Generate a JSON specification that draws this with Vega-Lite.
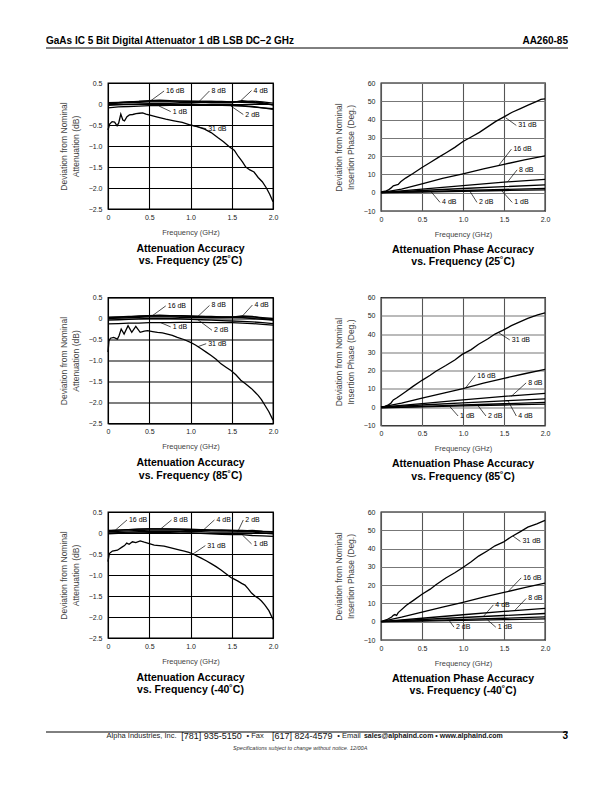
{
"$schema":"https://vega.github.io/schema/vega-lite/v6.json",
"padding":{"left":45,"top":35,"right":0,"bottom":0},
"background":"white",
"config":{
 "font":"Liberation Sans",
 "view":{"stroke":"black","strokeWidth":1.3},
 "axis":{"grid":true,"ticks":false,"domain":false,"tickCount":10,"labelFont":"Liberation Sans","labelFontSize":7,"labelColor":"#222","labelPadding":6,"labelFlush":false,"labelOverlap":false,"titleFont":"Liberation Sans","titleFontSize":8.5,"titleFontWeight":"normal","titleColor":"#444","titlePadding":8,"gridColor":"black","gridWidth":1.1,"gridOpacity":1},
 "axisX":{"titleFontSize":7.5,"labelPadding":4,"titlePadding":8},
 "axisY":{"titleLineHeight":12},
 "title":{"font":"Liberation Sans"}
},
"datasets":{
"a25":[
{"series":"16 dB","freq":0,"dev":0.02},{"series":"16 dB","freq":0.125,"dev":0.03},{"series":"16 dB","freq":0.25,"dev":0.05},{"series":"16 dB","freq":0.375,"dev":0.06},{"series":"16 dB","freq":0.5,"dev":0.08},{"series":"16 dB","freq":0.625,"dev":0.09},{"series":"16 dB","freq":0.75,"dev":0.08},{"series":"16 dB","freq":0.875,"dev":0.07},{"series":"16 dB","freq":1,"dev":0.07},{"series":"16 dB","freq":1.125,"dev":0.06},{"series":"16 dB","freq":1.25,"dev":0.06},{"series":"16 dB","freq":1.375,"dev":0.05},{"series":"16 dB","freq":1.5,"dev":0.05},{"series":"16 dB","freq":1.625,"dev":0.04},{"series":"16 dB","freq":1.75,"dev":0.03},{"series":"16 dB","freq":1.875,"dev":0.01},{"series":"16 dB","freq":2,"dev":-0.02},
{"series":"8 dB","freq":0,"dev":0.03},{"series":"8 dB","freq":0.125,"dev":0.04},{"series":"8 dB","freq":0.25,"dev":0.05},{"series":"8 dB","freq":0.375,"dev":0.06},{"series":"8 dB","freq":0.5,"dev":0.07},{"series":"8 dB","freq":0.625,"dev":0.07},{"series":"8 dB","freq":0.75,"dev":0.07},{"series":"8 dB","freq":0.875,"dev":0.07},{"series":"8 dB","freq":1,"dev":0.06},{"series":"8 dB","freq":1.125,"dev":0.06},{"series":"8 dB","freq":1.25,"dev":0.06},{"series":"8 dB","freq":1.375,"dev":0.06},{"series":"8 dB","freq":1.5,"dev":0.05},{"series":"8 dB","freq":1.625,"dev":0.06},{"series":"8 dB","freq":1.75,"dev":0.07},{"series":"8 dB","freq":1.875,"dev":0.05},{"series":"8 dB","freq":2,"dev":0.02},
{"series":"4 dB","freq":0,"dev":0.0},{"series":"4 dB","freq":0.125,"dev":0.02},{"series":"4 dB","freq":0.25,"dev":0.03},{"series":"4 dB","freq":0.375,"dev":0.04},{"series":"4 dB","freq":0.5,"dev":0.05},{"series":"4 dB","freq":0.625,"dev":0.05},{"series":"4 dB","freq":0.75,"dev":0.05},{"series":"4 dB","freq":0.875,"dev":0.04},{"series":"4 dB","freq":1,"dev":0.04},{"series":"4 dB","freq":1.125,"dev":0.04},{"series":"4 dB","freq":1.25,"dev":0.03},{"series":"4 dB","freq":1.375,"dev":0.03},{"series":"4 dB","freq":1.5,"dev":0.03},{"series":"4 dB","freq":1.625,"dev":0.08},{"series":"4 dB","freq":1.75,"dev":0.04},{"series":"4 dB","freq":1.875,"dev":0.03},{"series":"4 dB","freq":2,"dev":-0.02},
{"series":"2 dB","freq":0,"dev":-0.03},{"series":"2 dB","freq":0.125,"dev":-0.02},{"series":"2 dB","freq":0.25,"dev":-0.01},{"series":"2 dB","freq":0.375,"dev":0.0},{"series":"2 dB","freq":0.5,"dev":0.01},{"series":"2 dB","freq":0.625,"dev":0.01},{"series":"2 dB","freq":0.75,"dev":0.01},{"series":"2 dB","freq":0.875,"dev":0.0},{"series":"2 dB","freq":1,"dev":0.0},{"series":"2 dB","freq":1.125,"dev":-0.01},{"series":"2 dB","freq":1.25,"dev":-0.02},{"series":"2 dB","freq":1.375,"dev":-0.03},{"series":"2 dB","freq":1.5,"dev":-0.04},{"series":"2 dB","freq":1.625,"dev":-0.05},{"series":"2 dB","freq":1.75,"dev":-0.07},{"series":"2 dB","freq":1.875,"dev":-0.09},{"series":"2 dB","freq":2,"dev":-0.11},
{"series":"1 dB","freq":0,"dev":-0.09},{"series":"1 dB","freq":0.125,"dev":-0.07},{"series":"1 dB","freq":0.25,"dev":-0.06},{"series":"1 dB","freq":0.375,"dev":-0.05},{"series":"1 dB","freq":0.5,"dev":-0.04},{"series":"1 dB","freq":0.625,"dev":-0.04},{"series":"1 dB","freq":0.75,"dev":-0.03},{"series":"1 dB","freq":0.875,"dev":-0.03},{"series":"1 dB","freq":1,"dev":-0.03},{"series":"1 dB","freq":1.125,"dev":-0.03},{"series":"1 dB","freq":1.25,"dev":-0.03},{"series":"1 dB","freq":1.375,"dev":-0.03},{"series":"1 dB","freq":1.5,"dev":-0.03},{"series":"1 dB","freq":1.625,"dev":-0.04},{"series":"1 dB","freq":1.75,"dev":-0.06},{"series":"1 dB","freq":1.875,"dev":-0.09},{"series":"1 dB","freq":2,"dev":-0.13},
{"series":"31 dB","freq":0,"dev":-0.62},{"series":"31 dB","freq":0.02,"dev":-0.48},{"series":"31 dB","freq":0.05,"dev":-0.42},{"series":"31 dB","freq":0.08,"dev":-0.43},{"series":"31 dB","freq":0.11,"dev":-0.52},{"series":"31 dB","freq":0.13,"dev":-0.45},{"series":"31 dB","freq":0.155,"dev":-0.24},{"series":"31 dB","freq":0.18,"dev":-0.38},{"series":"31 dB","freq":0.2,"dev":-0.4},{"series":"31 dB","freq":0.23,"dev":-0.3},{"series":"31 dB","freq":0.26,"dev":-0.26},{"series":"31 dB","freq":0.3,"dev":-0.25},{"series":"31 dB","freq":0.34,"dev":-0.23},{"series":"31 dB","freq":0.38,"dev":-0.22},{"series":"31 dB","freq":0.42,"dev":-0.21},{"series":"31 dB","freq":0.46,"dev":-0.24},{"series":"31 dB","freq":0.52,"dev":-0.27},{"series":"31 dB","freq":0.6,"dev":-0.31},{"series":"31 dB","freq":0.7,"dev":-0.36},{"series":"31 dB","freq":0.8,"dev":-0.4},{"series":"31 dB","freq":0.9,"dev":-0.44},{"series":"31 dB","freq":1.0,"dev":-0.5},{"series":"31 dB","freq":1.08,"dev":-0.54},{"series":"31 dB","freq":1.17,"dev":-0.6},{"series":"31 dB","freq":1.25,"dev":-0.68},{"series":"31 dB","freq":1.33,"dev":-0.8},{"series":"31 dB","freq":1.4,"dev":-0.9},{"series":"31 dB","freq":1.47,"dev":-1.02},{"series":"31 dB","freq":1.53,"dev":-1.1},{"series":"31 dB","freq":1.58,"dev":-1.25},{"series":"31 dB","freq":1.63,"dev":-1.38},{"series":"31 dB","freq":1.67,"dev":-1.5},{"series":"31 dB","freq":1.72,"dev":-1.57},{"series":"31 dB","freq":1.77,"dev":-1.62},{"series":"31 dB","freq":1.82,"dev":-1.75},{"series":"31 dB","freq":1.87,"dev":-1.85},{"series":"31 dB","freq":1.92,"dev":-2.0},{"series":"31 dB","freq":1.96,"dev":-2.15},{"series":"31 dB","freq":2.0,"dev":-2.33}
],
"a85":[
{"series":"16 dB","freq":0,"dev":0.02},{"series":"16 dB","freq":0.125,"dev":0.03},{"series":"16 dB","freq":0.25,"dev":0.04},{"series":"16 dB","freq":0.375,"dev":0.06},{"series":"16 dB","freq":0.5,"dev":0.07},{"series":"16 dB","freq":0.625,"dev":0.08},{"series":"16 dB","freq":0.75,"dev":0.07},{"series":"16 dB","freq":0.875,"dev":0.07},{"series":"16 dB","freq":1,"dev":0.06},{"series":"16 dB","freq":1.125,"dev":0.05},{"series":"16 dB","freq":1.25,"dev":0.05},{"series":"16 dB","freq":1.375,"dev":0.04},{"series":"16 dB","freq":1.5,"dev":0.03},{"series":"16 dB","freq":1.625,"dev":0.02},{"series":"16 dB","freq":1.75,"dev":0.0},{"series":"16 dB","freq":1.875,"dev":-0.02},{"series":"16 dB","freq":2,"dev":-0.04},
{"series":"8 dB","freq":0,"dev":0.03},{"series":"8 dB","freq":0.125,"dev":0.04},{"series":"8 dB","freq":0.25,"dev":0.05},{"series":"8 dB","freq":0.375,"dev":0.05},{"series":"8 dB","freq":0.5,"dev":0.06},{"series":"8 dB","freq":0.625,"dev":0.06},{"series":"8 dB","freq":0.75,"dev":0.06},{"series":"8 dB","freq":0.875,"dev":0.06},{"series":"8 dB","freq":1,"dev":0.05},{"series":"8 dB","freq":1.125,"dev":0.05},{"series":"8 dB","freq":1.25,"dev":0.04},{"series":"8 dB","freq":1.375,"dev":0.04},{"series":"8 dB","freq":1.5,"dev":0.04},{"series":"8 dB","freq":1.625,"dev":0.03},{"series":"8 dB","freq":1.75,"dev":0.04},{"series":"8 dB","freq":1.875,"dev":0.02},{"series":"8 dB","freq":2,"dev":0.0},
{"series":"4 dB","freq":0,"dev":0.0},{"series":"4 dB","freq":0.125,"dev":0.01},{"series":"4 dB","freq":0.25,"dev":0.02},{"series":"4 dB","freq":0.375,"dev":0.03},{"series":"4 dB","freq":0.5,"dev":0.04},{"series":"4 dB","freq":0.625,"dev":0.04},{"series":"4 dB","freq":0.75,"dev":0.04},{"series":"4 dB","freq":0.875,"dev":0.03},{"series":"4 dB","freq":1,"dev":0.03},{"series":"4 dB","freq":1.125,"dev":0.03},{"series":"4 dB","freq":1.25,"dev":0.02},{"series":"4 dB","freq":1.375,"dev":0.02},{"series":"4 dB","freq":1.5,"dev":0.03},{"series":"4 dB","freq":1.625,"dev":0.06},{"series":"4 dB","freq":1.75,"dev":0.05},{"series":"4 dB","freq":1.875,"dev":0.0},{"series":"4 dB","freq":2,"dev":-0.03},
{"series":"2 dB","freq":0,"dev":-0.04},{"series":"2 dB","freq":0.125,"dev":-0.03},{"series":"2 dB","freq":0.25,"dev":-0.02},{"series":"2 dB","freq":0.375,"dev":-0.01},{"series":"2 dB","freq":0.5,"dev":0.0},{"series":"2 dB","freq":0.625,"dev":0.0},{"series":"2 dB","freq":0.75,"dev":0.0},{"series":"2 dB","freq":0.875,"dev":-0.01},{"series":"2 dB","freq":1,"dev":-0.02},{"series":"2 dB","freq":1.125,"dev":-0.03},{"series":"2 dB","freq":1.25,"dev":-0.04},{"series":"2 dB","freq":1.375,"dev":-0.05},{"series":"2 dB","freq":1.5,"dev":-0.06},{"series":"2 dB","freq":1.625,"dev":-0.07},{"series":"2 dB","freq":1.75,"dev":-0.08},{"series":"2 dB","freq":1.875,"dev":-0.1},{"series":"2 dB","freq":2,"dev":-0.12},
{"series":"1 dB","freq":0,"dev":-0.13},{"series":"1 dB","freq":0.125,"dev":-0.12},{"series":"1 dB","freq":0.25,"dev":-0.11},{"series":"1 dB","freq":0.375,"dev":-0.11},{"series":"1 dB","freq":0.5,"dev":-0.1},{"series":"1 dB","freq":0.625,"dev":-0.1},{"series":"1 dB","freq":0.75,"dev":-0.1},{"series":"1 dB","freq":0.875,"dev":-0.09},{"series":"1 dB","freq":1,"dev":-0.09},{"series":"1 dB","freq":1.125,"dev":-0.09},{"series":"1 dB","freq":1.25,"dev":-0.1},{"series":"1 dB","freq":1.375,"dev":-0.1},{"series":"1 dB","freq":1.5,"dev":-0.1},{"series":"1 dB","freq":1.625,"dev":-0.11},{"series":"1 dB","freq":1.75,"dev":-0.12},{"series":"1 dB","freq":1.875,"dev":-0.14},{"series":"1 dB","freq":2,"dev":-0.16},
{"series":"31 dB","freq":0,"dev":-0.8},{"series":"31 dB","freq":0.012,"dev":-0.53},{"series":"31 dB","freq":0.03,"dev":-0.47},{"series":"31 dB","freq":0.07,"dev":-0.45},{"series":"31 dB","freq":0.114,"dev":-0.49},{"series":"31 dB","freq":0.134,"dev":-0.41},{"series":"31 dB","freq":0.16,"dev":-0.25},{"series":"31 dB","freq":0.195,"dev":-0.37},{"series":"31 dB","freq":0.243,"dev":-0.17},{"series":"31 dB","freq":0.288,"dev":-0.33},{"series":"31 dB","freq":0.337,"dev":-0.19},{"series":"31 dB","freq":0.39,"dev":-0.33},{"series":"31 dB","freq":0.44,"dev":-0.3},{"series":"31 dB","freq":0.48,"dev":-0.29},{"series":"31 dB","freq":0.54,"dev":-0.31},{"series":"31 dB","freq":0.6,"dev":-0.33},{"series":"31 dB","freq":0.66,"dev":-0.34},{"series":"31 dB","freq":0.72,"dev":-0.37},{"series":"31 dB","freq":0.78,"dev":-0.4},{"series":"31 dB","freq":0.84,"dev":-0.45},{"series":"31 dB","freq":0.92,"dev":-0.5},{"series":"31 dB","freq":1.0,"dev":-0.57},{"series":"31 dB","freq":1.06,"dev":-0.63},{"series":"31 dB","freq":1.13,"dev":-0.72},{"series":"31 dB","freq":1.19,"dev":-0.8},{"series":"31 dB","freq":1.25,"dev":-0.88},{"series":"31 dB","freq":1.31,"dev":-0.97},{"series":"31 dB","freq":1.37,"dev":-1.08},{"series":"31 dB","freq":1.43,"dev":-1.16},{"series":"31 dB","freq":1.49,"dev":-1.24},{"series":"31 dB","freq":1.55,"dev":-1.34},{"series":"31 dB","freq":1.61,"dev":-1.47},{"series":"31 dB","freq":1.67,"dev":-1.56},{"series":"31 dB","freq":1.74,"dev":-1.67},{"series":"31 dB","freq":1.78,"dev":-1.75},{"series":"31 dB","freq":1.82,"dev":-1.83},{"series":"31 dB","freq":1.86,"dev":-1.93},{"series":"31 dB","freq":1.9,"dev":-2.06},{"series":"31 dB","freq":1.95,"dev":-2.22},{"series":"31 dB","freq":2.0,"dev":-2.42}
],
"am40":[
{"series":"16 dB","freq":0,"dev":0.05},{"series":"16 dB","freq":0.125,"dev":0.07},{"series":"16 dB","freq":0.25,"dev":0.08},{"series":"16 dB","freq":0.375,"dev":0.09},{"series":"16 dB","freq":0.5,"dev":0.1},{"series":"16 dB","freq":0.625,"dev":0.1},{"series":"16 dB","freq":0.75,"dev":0.1},{"series":"16 dB","freq":0.875,"dev":0.09},{"series":"16 dB","freq":1,"dev":0.09},{"series":"16 dB","freq":1.125,"dev":0.08},{"series":"16 dB","freq":1.25,"dev":0.07},{"series":"16 dB","freq":1.375,"dev":0.07},{"series":"16 dB","freq":1.5,"dev":0.06},{"series":"16 dB","freq":1.625,"dev":0.05},{"series":"16 dB","freq":1.75,"dev":0.04},{"series":"16 dB","freq":1.875,"dev":0.03},{"series":"16 dB","freq":2,"dev":0.02},
{"series":"8 dB","freq":0,"dev":0.06},{"series":"8 dB","freq":0.125,"dev":0.07},{"series":"8 dB","freq":0.25,"dev":0.08},{"series":"8 dB","freq":0.375,"dev":0.09},{"series":"8 dB","freq":0.5,"dev":0.1},{"series":"8 dB","freq":0.625,"dev":0.1},{"series":"8 dB","freq":0.75,"dev":0.09},{"series":"8 dB","freq":0.875,"dev":0.09},{"series":"8 dB","freq":1,"dev":0.08},{"series":"8 dB","freq":1.125,"dev":0.08},{"series":"8 dB","freq":1.25,"dev":0.07},{"series":"8 dB","freq":1.375,"dev":0.07},{"series":"8 dB","freq":1.5,"dev":0.06},{"series":"8 dB","freq":1.625,"dev":0.06},{"series":"8 dB","freq":1.75,"dev":0.05},{"series":"8 dB","freq":1.875,"dev":0.04},{"series":"8 dB","freq":2,"dev":0.03},
{"series":"4 dB","freq":0,"dev":0.03},{"series":"4 dB","freq":0.125,"dev":0.04},{"series":"4 dB","freq":0.25,"dev":0.05},{"series":"4 dB","freq":0.375,"dev":0.06},{"series":"4 dB","freq":0.5,"dev":0.07},{"series":"4 dB","freq":0.625,"dev":0.07},{"series":"4 dB","freq":0.75,"dev":0.07},{"series":"4 dB","freq":0.875,"dev":0.07},{"series":"4 dB","freq":1,"dev":0.06},{"series":"4 dB","freq":1.125,"dev":0.06},{"series":"4 dB","freq":1.25,"dev":0.06},{"series":"4 dB","freq":1.375,"dev":0.05},{"series":"4 dB","freq":1.5,"dev":0.05},{"series":"4 dB","freq":1.625,"dev":0.05},{"series":"4 dB","freq":1.75,"dev":0.06},{"series":"4 dB","freq":1.875,"dev":0.04},{"series":"4 dB","freq":2,"dev":0.03},
{"series":"2 dB","freq":0,"dev":0.0},{"series":"2 dB","freq":0.125,"dev":0.01},{"series":"2 dB","freq":0.25,"dev":0.02},{"series":"2 dB","freq":0.375,"dev":0.03},{"series":"2 dB","freq":0.5,"dev":0.04},{"series":"2 dB","freq":0.625,"dev":0.04},{"series":"2 dB","freq":0.75,"dev":0.04},{"series":"2 dB","freq":0.875,"dev":0.04},{"series":"2 dB","freq":1,"dev":0.03},{"series":"2 dB","freq":1.125,"dev":0.03},{"series":"2 dB","freq":1.25,"dev":0.02},{"series":"2 dB","freq":1.375,"dev":0.02},{"series":"2 dB","freq":1.5,"dev":0.02},{"series":"2 dB","freq":1.625,"dev":0.03},{"series":"2 dB","freq":1.75,"dev":0.02},{"series":"2 dB","freq":1.875,"dev":0.0},{"series":"2 dB","freq":2,"dev":-0.02},
{"series":"1 dB","freq":0,"dev":-0.02},{"series":"1 dB","freq":0.125,"dev":-0.01},{"series":"1 dB","freq":0.25,"dev":0.0},{"series":"1 dB","freq":0.375,"dev":0.0},{"series":"1 dB","freq":0.5,"dev":0.01},{"series":"1 dB","freq":0.625,"dev":0.01},{"series":"1 dB","freq":0.75,"dev":0.01},{"series":"1 dB","freq":0.875,"dev":0.0},{"series":"1 dB","freq":1,"dev":0.0},{"series":"1 dB","freq":1.125,"dev":-0.01},{"series":"1 dB","freq":1.25,"dev":-0.02},{"series":"1 dB","freq":1.375,"dev":-0.03},{"series":"1 dB","freq":1.5,"dev":-0.04},{"series":"1 dB","freq":1.625,"dev":-0.04},{"series":"1 dB","freq":1.75,"dev":-0.06},{"series":"1 dB","freq":1.875,"dev":-0.07},{"series":"1 dB","freq":2,"dev":-0.08},
{"series":"31 dB","freq":0,"dev":-0.68},{"series":"31 dB","freq":0.016,"dev":-0.49},{"series":"31 dB","freq":0.053,"dev":-0.43},{"series":"31 dB","freq":0.114,"dev":-0.41},{"series":"31 dB","freq":0.174,"dev":-0.33},{"series":"31 dB","freq":0.2,"dev":-0.3},{"series":"31 dB","freq":0.227,"dev":-0.24},{"series":"31 dB","freq":0.256,"dev":-0.27},{"series":"31 dB","freq":0.296,"dev":-0.21},{"series":"31 dB","freq":0.337,"dev":-0.23},{"series":"31 dB","freq":0.39,"dev":-0.19},{"series":"31 dB","freq":0.44,"dev":-0.22},{"series":"31 dB","freq":0.48,"dev":-0.24},{"series":"31 dB","freq":0.56,"dev":-0.29},{"series":"31 dB","freq":0.62,"dev":-0.3},{"series":"31 dB","freq":0.68,"dev":-0.31},{"series":"31 dB","freq":0.74,"dev":-0.34},{"series":"31 dB","freq":0.8,"dev":-0.37},{"series":"31 dB","freq":0.86,"dev":-0.4},{"series":"31 dB","freq":0.925,"dev":-0.43},{"series":"31 dB","freq":0.98,"dev":-0.46},{"series":"31 dB","freq":1.03,"dev":-0.5},{"series":"31 dB","freq":1.08,"dev":-0.55},{"series":"31 dB","freq":1.13,"dev":-0.6},{"series":"31 dB","freq":1.19,"dev":-0.66},{"series":"31 dB","freq":1.25,"dev":-0.73},{"series":"31 dB","freq":1.31,"dev":-0.8},{"series":"31 dB","freq":1.37,"dev":-0.88},{"series":"31 dB","freq":1.43,"dev":-0.97},{"series":"31 dB","freq":1.49,"dev":-1.06},{"series":"31 dB","freq":1.53,"dev":-1.1},{"series":"31 dB","freq":1.57,"dev":-1.14},{"series":"31 dB","freq":1.62,"dev":-1.2},{"series":"31 dB","freq":1.66,"dev":-1.24},{"series":"31 dB","freq":1.7,"dev":-1.33},{"series":"31 dB","freq":1.74,"dev":-1.43},{"series":"31 dB","freq":1.78,"dev":-1.5},{"series":"31 dB","freq":1.82,"dev":-1.55},{"series":"31 dB","freq":1.86,"dev":-1.62},{"series":"31 dB","freq":1.9,"dev":-1.71},{"series":"31 dB","freq":1.95,"dev":-1.85},{"series":"31 dB","freq":2.0,"dev":-2.06}
],
"p25":[
{"series":"31 dB","freq":0,"dev":0.5},{"series":"31 dB","freq":0.05,"dev":0.8},{"series":"31 dB","freq":0.09,"dev":1.5},{"series":"31 dB","freq":0.12,"dev":2.5},{"series":"31 dB","freq":0.15,"dev":3.8},{"series":"31 dB","freq":0.18,"dev":4.2},{"series":"31 dB","freq":0.21,"dev":4.5},{"series":"31 dB","freq":0.24,"dev":6},{"series":"31 dB","freq":0.3,"dev":8},{"series":"31 dB","freq":0.39,"dev":10.5},{"series":"31 dB","freq":0.5,"dev":13.8},{"series":"31 dB","freq":0.6,"dev":16.5},{"series":"31 dB","freq":0.7,"dev":19.3},{"series":"31 dB","freq":0.8,"dev":22},{"series":"31 dB","freq":0.9,"dev":24.8},{"series":"31 dB","freq":1.0,"dev":28},{"series":"31 dB","freq":1.1,"dev":30.5},{"series":"31 dB","freq":1.2,"dev":33},{"series":"31 dB","freq":1.3,"dev":36},{"series":"31 dB","freq":1.4,"dev":39},{"series":"31 dB","freq":1.5,"dev":41.5},{"series":"31 dB","freq":1.6,"dev":44},{"series":"31 dB","freq":1.7,"dev":46},{"series":"31 dB","freq":1.8,"dev":48},{"series":"31 dB","freq":1.9,"dev":50},{"series":"31 dB","freq":1.95,"dev":51},{"series":"31 dB","freq":2.0,"dev":51.3},
{"series":"16 dB","freq":0,"dev":0},{"series":"16 dB","freq":0.25,"dev":2},{"series":"16 dB","freq":0.5,"dev":4.8},{"series":"16 dB","freq":0.75,"dev":7.8},{"series":"16 dB","freq":1.0,"dev":10.3},{"series":"16 dB","freq":1.25,"dev":13},{"series":"16 dB","freq":1.5,"dev":15.5},{"series":"16 dB","freq":1.75,"dev":18},{"series":"16 dB","freq":2.0,"dev":20.2},
{"series":"8 dB","freq":0,"dev":0},{"series":"8 dB","freq":0.5,"dev":2},{"series":"8 dB","freq":1.0,"dev":3.9},{"series":"8 dB","freq":1.5,"dev":5.8},{"series":"8 dB","freq":2.0,"dev":7.3},
{"series":"4 dB","freq":0,"dev":0},{"series":"4 dB","freq":0.5,"dev":1.2},{"series":"4 dB","freq":1.0,"dev":2.3},{"series":"4 dB","freq":1.5,"dev":3.3},{"series":"4 dB","freq":2.0,"dev":4.3},
{"series":"2 dB","freq":0,"dev":0},{"series":"2 dB","freq":0.5,"dev":0.6},{"series":"2 dB","freq":1.0,"dev":1.2},{"series":"2 dB","freq":1.5,"dev":1.8},{"series":"2 dB","freq":2.0,"dev":2.4},
{"series":"1 dB","freq":0,"dev":0},{"series":"1 dB","freq":0.5,"dev":0.4},{"series":"1 dB","freq":1.0,"dev":0.8},{"series":"1 dB","freq":1.5,"dev":1.2},{"series":"1 dB","freq":2.0,"dev":1.6}
],
"p85":[
{"series":"31 dB","freq":0,"dev":0},{"series":"31 dB","freq":0.05,"dev":0.5},{"series":"31 dB","freq":0.09,"dev":1.3},{"series":"31 dB","freq":0.12,"dev":2.2},{"series":"31 dB","freq":0.15,"dev":4},{"series":"31 dB","freq":0.19,"dev":5},{"series":"31 dB","freq":0.23,"dev":6.3},{"series":"31 dB","freq":0.3,"dev":8.5},{"series":"31 dB","freq":0.39,"dev":11.4},{"series":"31 dB","freq":0.5,"dev":14.7},{"series":"31 dB","freq":0.6,"dev":17.5},{"series":"31 dB","freq":0.67,"dev":19.7},{"series":"31 dB","freq":0.79,"dev":22.8},{"series":"31 dB","freq":0.9,"dev":25.8},{"series":"31 dB","freq":0.99,"dev":28.9},{"series":"31 dB","freq":1.1,"dev":31.5},{"series":"31 dB","freq":1.19,"dev":34.4},{"series":"31 dB","freq":1.3,"dev":37.3},{"series":"31 dB","freq":1.39,"dev":40},{"series":"31 dB","freq":1.49,"dev":42.2},{"series":"31 dB","freq":1.59,"dev":44.6},{"series":"31 dB","freq":1.7,"dev":46.8},{"series":"31 dB","freq":1.79,"dev":48.6},{"series":"31 dB","freq":1.91,"dev":50.5},{"series":"31 dB","freq":2.0,"dev":51.6},
{"series":"16 dB","freq":0,"dev":0},{"series":"16 dB","freq":0.25,"dev":2.2},{"series":"16 dB","freq":0.5,"dev":5},{"series":"16 dB","freq":0.75,"dev":7.6},{"series":"16 dB","freq":1.0,"dev":10.2},{"series":"16 dB","freq":1.25,"dev":13.2},{"series":"16 dB","freq":1.5,"dev":15.8},{"series":"16 dB","freq":1.75,"dev":18.3},{"series":"16 dB","freq":2.0,"dev":20.7},
{"series":"8 dB","freq":0,"dev":0},{"series":"8 dB","freq":0.5,"dev":2},{"series":"8 dB","freq":1.0,"dev":4},{"series":"8 dB","freq":1.5,"dev":5.9},{"series":"8 dB","freq":2.0,"dev":7.6},
{"series":"4 dB","freq":0,"dev":0},{"series":"4 dB","freq":0.5,"dev":1.2},{"series":"4 dB","freq":1.0,"dev":2.4},{"series":"4 dB","freq":1.5,"dev":3.5},{"series":"4 dB","freq":2.0,"dev":4.6},
{"series":"2 dB","freq":0,"dev":-0.2},{"series":"2 dB","freq":0.5,"dev":0.5},{"series":"2 dB","freq":1.0,"dev":1.2},{"series":"2 dB","freq":1.5,"dev":1.9},{"series":"2 dB","freq":2.0,"dev":2.6},
{"series":"1 dB","freq":0,"dev":-0.3},{"series":"1 dB","freq":0.5,"dev":0.2},{"series":"1 dB","freq":1.0,"dev":0.7},{"series":"1 dB","freq":1.5,"dev":1.2},{"series":"1 dB","freq":2.0,"dev":1.7}
],
"pm40":[
{"series":"31 dB","freq":0,"dev":0},{"series":"31 dB","freq":0.07,"dev":1.1},{"series":"31 dB","freq":0.13,"dev":2.6},{"series":"31 dB","freq":0.15,"dev":3.5},{"series":"31 dB","freq":0.17,"dev":3.9},{"series":"31 dB","freq":0.19,"dev":3.5},{"series":"31 dB","freq":0.21,"dev":5},{"series":"31 dB","freq":0.31,"dev":9},{"series":"31 dB","freq":0.4,"dev":11.8},{"series":"31 dB","freq":0.5,"dev":15},{"series":"31 dB","freq":0.6,"dev":17.8},{"series":"31 dB","freq":0.67,"dev":20.2},{"series":"31 dB","freq":0.79,"dev":23.9},{"series":"31 dB","freq":0.9,"dev":26.8},{"series":"31 dB","freq":0.99,"dev":29.4},{"series":"31 dB","freq":1.1,"dev":32.8},{"series":"31 dB","freq":1.19,"dev":35.9},{"series":"31 dB","freq":1.3,"dev":38.8},{"series":"31 dB","freq":1.39,"dev":41.5},{"series":"31 dB","freq":1.49,"dev":43.5},{"series":"31 dB","freq":1.59,"dev":46.5},{"series":"31 dB","freq":1.7,"dev":49.3},{"series":"31 dB","freq":1.79,"dev":51.7},{"series":"31 dB","freq":1.9,"dev":53.5},{"series":"31 dB","freq":2.0,"dev":55.4},
{"series":"16 dB","freq":0,"dev":0},{"series":"16 dB","freq":0.25,"dev":2.5},{"series":"16 dB","freq":0.5,"dev":5.3},{"series":"16 dB","freq":0.75,"dev":8},{"series":"16 dB","freq":1.0,"dev":10.6},{"series":"16 dB","freq":1.25,"dev":13.4},{"series":"16 dB","freq":1.5,"dev":16},{"series":"16 dB","freq":1.75,"dev":18.6},{"series":"16 dB","freq":2.0,"dev":21.1},
{"series":"8 dB","freq":0,"dev":0},{"series":"8 dB","freq":0.5,"dev":1.9},{"series":"8 dB","freq":1.0,"dev":3.8},{"series":"8 dB","freq":1.5,"dev":5.6},{"series":"8 dB","freq":2.0,"dev":7.3},
{"series":"4 dB","freq":0,"dev":0},{"series":"4 dB","freq":0.5,"dev":1.2},{"series":"4 dB","freq":1.0,"dev":2.3},{"series":"4 dB","freq":1.5,"dev":3.4},{"series":"4 dB","freq":2.0,"dev":4.5},
{"series":"2 dB","freq":0,"dev":0},{"series":"2 dB","freq":0.5,"dev":0.6},{"series":"2 dB","freq":1.0,"dev":1.3},{"series":"2 dB","freq":1.5,"dev":1.9},{"series":"2 dB","freq":2.0,"dev":2.6},
{"series":"1 dB","freq":0,"dev":0},{"series":"1 dB","freq":0.5,"dev":0.3},{"series":"1 dB","freq":1.0,"dev":0.7},{"series":"1 dB","freq":1.5,"dev":1.1},{"series":"1 dB","freq":2.0,"dev":1.5}
],
"notes":[
{"panel":"a25","label":"16 dB","freq":0.68,"dev":0.31,"freq2":0.52,"dev2":0.08},
{"panel":"a25","label":"8 dB","freq":1.23,"dev":0.31,"freq2":1.11,"dev2":0.07},
{"panel":"a25","label":"4 dB","freq":1.74,"dev":0.32,"freq2":1.61,"dev2":0.08},
{"panel":"a25","label":"1 dB","freq":0.76,"dev":-0.18,"freq2":0.62,"dev2":-0.05},
{"panel":"a25","label":"2 dB","freq":1.64,"dev":-0.25,"freq2":1.49,"dev2":-0.05},
{"panel":"a25","label":"31 dB","freq":1.19,"dev":-0.59,"freq2":1.0,"dev2":-0.5},
{"panel":"p25","label":"31 dB","freq":1.65,"dev":36.8,"freq2":1.52,"dev2":41},
{"panel":"p25","label":"16 dB","freq":1.59,"dev":23.8,"freq2":1.44,"dev2":15.2},
{"panel":"p25","label":"8 dB","freq":1.66,"dev":12.5,"freq2":1.54,"dev2":5.7},
{"panel":"p25","label":"4 dB","freq":0.72,"dev":-5.3,"freq2":0.61,"dev2":0.6},
{"panel":"p25","label":"2 dB","freq":1.17,"dev":-5.3,"freq2":1.08,"dev2":1.1},
{"panel":"p25","label":"1 dB","freq":1.6,"dev":-5.3,"freq2":1.47,"dev2":1.2},
{"panel":"a85","label":"16 dB","freq":0.7,"dev":0.3,"freq2":0.54,"dev2":0.07},
{"panel":"a85","label":"8 dB","freq":1.23,"dev":0.31,"freq2":1.09,"dev2":0.05},
{"panel":"a85","label":"4 dB","freq":1.75,"dev":0.32,"freq2":1.63,"dev2":0.06},
{"panel":"a85","label":"1 dB","freq":0.76,"dev":-0.2,"freq2":0.64,"dev2":-0.1},
{"panel":"a85","label":"2 dB","freq":1.26,"dev":-0.28,"freq2":1.09,"dev2":-0.03},
{"panel":"a85","label":"31 dB","freq":1.19,"dev":-0.6,"freq2":1.09,"dev2":-0.67},
{"panel":"p85","label":"31 dB","freq":1.57,"dev":36.8,"freq2":1.43,"dev2":40.9},
{"panel":"p85","label":"16 dB","freq":1.15,"dev":17.3,"freq2":1.03,"dev2":10.5},
{"panel":"p85","label":"8 dB","freq":1.77,"dev":13.3,"freq2":1.59,"dev2":6},
{"panel":"p85","label":"1 dB","freq":0.94,"dev":-4.8,"freq2":0.84,"dev2":0.3},
{"panel":"p85","label":"2 dB","freq":1.28,"dev":-4.8,"freq2":1.18,"dev2":1.0},
{"panel":"p85","label":"4 dB","freq":1.65,"dev":-4.8,"freq2":1.55,"dev2":3.4},
{"panel":"am40","label":"16 dB","freq":0.23,"dev":0.31,"freq2":0.09,"dev2":0.07},
{"panel":"am40","label":"8 dB","freq":0.77,"dev":0.31,"freq2":0.64,"dev2":0.1},
{"panel":"am40","label":"4 dB","freq":1.29,"dev":0.31,"freq2":1.15,"dev2":0.06},
{"panel":"am40","label":"2 dB","freq":1.64,"dev":0.31,"freq2":1.57,"dev2":0.02},
{"panel":"am40","label":"1 dB","freq":1.74,"dev":-0.26,"freq2":1.63,"dev2":-0.05},
{"panel":"am40","label":"31 dB","freq":1.18,"dev":-0.3,"freq2":1.03,"dev2":-0.5},
{"panel":"pm40","label":"31 dB","freq":1.7,"dev":43.9,"freq2":1.61,"dev2":46.8},
{"panel":"pm40","label":"16 dB","freq":1.71,"dev":24,"freq2":1.55,"dev2":16.5},
{"panel":"pm40","label":"8 dB","freq":1.77,"dev":12.7,"freq2":1.63,"dev2":6.1},
{"panel":"pm40","label":"4 dB","freq":1.37,"dev":9.2,"freq2":1.25,"dev2":2.9},
{"panel":"pm40","label":"2 dB","freq":0.89,"dev":-3,"freq2":0.83,"dev2":0.8},
{"panel":"pm40","label":"1 dB","freq":1.4,"dev":-3,"freq2":1.3,"dev2":0.9}
]
},
"vconcat":[
 {"spacing":29,"vconcat":[
  {"width":460,"height":12,"view":{"stroke":null},
   "data":{"values":[{"text":"GaAs IC 5 Bit Digital Attenuator 1 dB LSB DC–2 GHz","pos":0,"side":"left"},{"text":"AA260-85","pos":1,"side":"right"}]},
   "layer":[
    {"data":{"values":[{}]},"mark":{"type":"rule","color":"black","strokeWidth":1},
     "encoding":{"x":{"datum":0,"type":"quantitative","scale":{"domain":[0.11877,1],"nice":false,"zero":false},"axis":null},"x2":{"datum":1},"y":{"datum":0,"type":"quantitative","scale":{"domain":[0,1],"nice":false},"axis":null}}},
    {"transform":[{"filter":"datum.side=='left'"}],"mark":{"type":"text","align":"left","baseline":"middle","fontSize":10,"fontWeight":"bold","color":"black"},
     "encoding":{"x":{"field":"pos","type":"quantitative"},"y":{"datum":0.6,"type":"quantitative"},"text":{"field":"text"}}},
    {"transform":[{"filter":"datum.side=='right'"}],"mark":{"type":"text","align":"right","baseline":"middle","fontSize":10,"fontWeight":"bold","color":"black"},
     "encoding":{"x":{"field":"pos","type":"quantitative"},"y":{"datum":0.6,"type":"quantitative"},"text":{"field":"text"}}}
   ]},
  {"spacing":23.5,"vconcat":[
   {"spacing":54,"hconcat":[
    {"width":165,"height":126,
     "title":{"text":["Attenuation Accuracy","vs. Frequency (25˚C)"],"orient":"bottom","anchor":"middle","fontSize":10.5,"fontWeight":"bold","offset":8,"lineHeight":12.5,"color":"black"},
     "layer":[
      {"data":{"name":"a25"},"mark":{"type":"line","color":"black","strokeWidth":1.3},
       "encoding":{"x":{"field":"freq","type":"quantitative","scale":{"domain":[0,2],"nice":false},"axis":{"title":"Frequency (GHz)","values":[0,0.5,1,1.5,2],"labelExpr":"datum.value==0?'0':format(datum.value,'.1f')"}},
        "y":{"field":"dev","type":"quantitative","scale":{"domain":[-2.5,0.5],"nice":false},"axis":{"title":["Deviation from Nominal","Attenuation (dB)"],"values":[-2.5,-2,-1.5,-1,-0.5,0,0.5],"labelExpr":"datum.value==0?'0':format(datum.value,'.1f')"}},
        "detail":{"field":"series"}}},
      {"data":{"name":"notes"},"transform":[{"filter":"datum.panel=='a25'"}],"mark":{"type":"rule","color":"black","strokeWidth":0.7},
       "encoding":{"x":{"field":"freq","type":"quantitative"},"y":{"field":"dev","type":"quantitative"},"x2":{"field":"freq2"},"y2":{"field":"dev2"}}},
      {"data":{"name":"notes"},"transform":[{"filter":"datum.panel=='a25'"}],"mark":{"type":"text","align":"left","baseline":"middle","dx":2,"fontSize":7,"color":"black"},
       "encoding":{"x":{"field":"freq","type":"quantitative"},"y":{"field":"dev","type":"quantitative"},"text":{"field":"label"}}}
     ]},
    {"width":164,"height":128,
     "title":{"text":["Attenuation Phase Accuracy","vs. Frequency (25˚C)"],"orient":"bottom","anchor":"middle","fontSize":10.5,"fontWeight":"bold","offset":7,"lineHeight":12.5,"color":"black"},
     "layer":[
      {"data":{"name":"p25"},"mark":{"type":"line","color":"black","strokeWidth":1.3},
       "encoding":{"x":{"field":"freq","type":"quantitative","scale":{"domain":[0,2],"nice":false},"axis":{"title":"Frequency (GHz)","values":[0,0.5,1,1.5,2],"gridColor":"#555","labelExpr":"datum.value==0?'0':format(datum.value,'.1f')"}},
        "y":{"field":"dev","type":"quantitative","scale":{"domain":[-10,60],"nice":false},"axis":{"title":["Deviation from Nominal","Insertion Phase (Deg.)"],"values":[-10,0,10,20,30,40,50,60],"gridColor":"#777"}},
        "detail":{"field":"series"}}},
      {"data":{"name":"notes"},"transform":[{"filter":"datum.panel=='p25'"}],"mark":{"type":"rule","color":"black","strokeWidth":0.7},
       "encoding":{"x":{"field":"freq","type":"quantitative"},"y":{"field":"dev","type":"quantitative"},"x2":{"field":"freq2"},"y2":{"field":"dev2"}}},
      {"data":{"name":"notes"},"transform":[{"filter":"datum.panel=='p25'"}],"mark":{"type":"text","align":"left","baseline":"middle","dx":2,"fontSize":7,"color":"black"},
       "encoding":{"x":{"field":"freq","type":"quantitative"},"y":{"field":"dev","type":"quantitative"},"text":{"field":"label"}}}
     ]}
   ]},
   {"spacing":54,"hconcat":[
    {"width":165,"height":126,
     "title":{"text":["Attenuation Accuracy","vs. Frequency (85˚C)"],"orient":"bottom","anchor":"middle","fontSize":10.5,"fontWeight":"bold","offset":8,"lineHeight":12.5,"color":"black"},
     "layer":[
      {"data":{"name":"a85"},"mark":{"type":"line","color":"black","strokeWidth":1.3},
       "encoding":{"x":{"field":"freq","type":"quantitative","scale":{"domain":[0,2],"nice":false},"axis":{"title":"Frequency (GHz)","values":[0,0.5,1,1.5,2],"labelExpr":"datum.value==0?'0':format(datum.value,'.1f')"}},
        "y":{"field":"dev","type":"quantitative","scale":{"domain":[-2.5,0.5],"nice":false},"axis":{"title":["Deviation from Nominal","Attenuation (dB)"],"values":[-2.5,-2,-1.5,-1,-0.5,0,0.5],"labelExpr":"datum.value==0?'0':format(datum.value,'.1f')"}},
        "detail":{"field":"series"}}},
      {"data":{"name":"notes"},"transform":[{"filter":"datum.panel=='a85'"}],"mark":{"type":"rule","color":"black","strokeWidth":0.7},
       "encoding":{"x":{"field":"freq","type":"quantitative"},"y":{"field":"dev","type":"quantitative"},"x2":{"field":"freq2"},"y2":{"field":"dev2"}}},
      {"data":{"name":"notes"},"transform":[{"filter":"datum.panel=='a85'"}],"mark":{"type":"text","align":"left","baseline":"middle","dx":2,"fontSize":7,"color":"black"},
       "encoding":{"x":{"field":"freq","type":"quantitative"},"y":{"field":"dev","type":"quantitative"},"text":{"field":"label"}}}
     ]},
    {"width":164,"height":128,
     "title":{"text":["Attenuation Phase Accuracy","vs. Frequency (85˚C)"],"orient":"bottom","anchor":"middle","fontSize":10.5,"fontWeight":"bold","offset":7,"lineHeight":12.5,"color":"black"},
     "layer":[
      {"data":{"name":"p85"},"mark":{"type":"line","color":"black","strokeWidth":1.3},
       "encoding":{"x":{"field":"freq","type":"quantitative","scale":{"domain":[0,2],"nice":false},"axis":{"title":"Frequency (GHz)","values":[0,0.5,1,1.5,2],"gridColor":"#555","labelExpr":"datum.value==0?'0':format(datum.value,'.1f')"}},
        "y":{"field":"dev","type":"quantitative","scale":{"domain":[-10,60],"nice":false},"axis":{"title":["Deviation from Nominal","Insertion Phase (Deg.)"],"values":[-10,0,10,20,30,40,50,60],"gridColor":"#777"}},
        "detail":{"field":"series"}}},
      {"data":{"name":"notes"},"transform":[{"filter":"datum.panel=='p85'"}],"mark":{"type":"rule","color":"black","strokeWidth":0.7},
       "encoding":{"x":{"field":"freq","type":"quantitative"},"y":{"field":"dev","type":"quantitative"},"x2":{"field":"freq2"},"y2":{"field":"dev2"}}},
      {"data":{"name":"notes"},"transform":[{"filter":"datum.panel=='p85'"}],"mark":{"type":"text","align":"left","baseline":"middle","dx":2,"fontSize":7,"color":"black"},
       "encoding":{"x":{"field":"freq","type":"quantitative"},"y":{"field":"dev","type":"quantitative"},"text":{"field":"label"}}}
     ]}
   ]},
   {"spacing":54,"hconcat":[
    {"width":165,"height":126,
     "title":{"text":["Attenuation Accuracy","vs. Frequency (-40˚C)"],"orient":"bottom","anchor":"middle","fontSize":10.5,"fontWeight":"bold","offset":8,"lineHeight":12.5,"color":"black"},
     "layer":[
      {"data":{"name":"am40"},"mark":{"type":"line","color":"black","strokeWidth":1.3},
       "encoding":{"x":{"field":"freq","type":"quantitative","scale":{"domain":[0,2],"nice":false},"axis":{"title":"Frequency (GHz)","values":[0,0.5,1,1.5,2],"labelExpr":"datum.value==0?'0':format(datum.value,'.1f')"}},
        "y":{"field":"dev","type":"quantitative","scale":{"domain":[-2.5,0.5],"nice":false},"axis":{"title":["Deviation from Nominal","Attenuation (dB)"],"values":[-2.5,-2,-1.5,-1,-0.5,0,0.5],"labelExpr":"datum.value==0?'0':format(datum.value,'.1f')"}},
        "detail":{"field":"series"}}},
      {"data":{"name":"notes"},"transform":[{"filter":"datum.panel=='am40'"}],"mark":{"type":"rule","color":"black","strokeWidth":0.7},
       "encoding":{"x":{"field":"freq","type":"quantitative"},"y":{"field":"dev","type":"quantitative"},"x2":{"field":"freq2"},"y2":{"field":"dev2"}}},
      {"data":{"name":"notes"},"transform":[{"filter":"datum.panel=='am40'"}],"mark":{"type":"text","align":"left","baseline":"middle","dx":2,"fontSize":7,"color":"black"},
       "encoding":{"x":{"field":"freq","type":"quantitative"},"y":{"field":"dev","type":"quantitative"},"text":{"field":"label"}}}
     ]},
    {"width":164,"height":128,
     "title":{"text":["Attenuation Phase Accuracy","vs. Frequency (-40˚C)"],"orient":"bottom","anchor":"middle","fontSize":10.5,"fontWeight":"bold","offset":7,"lineHeight":12.5,"color":"black"},
     "layer":[
      {"data":{"name":"pm40"},"mark":{"type":"line","color":"black","strokeWidth":1.3},
       "encoding":{"x":{"field":"freq","type":"quantitative","scale":{"domain":[0,2],"nice":false},"axis":{"title":"Frequency (GHz)","values":[0,0.5,1,1.5,2],"gridColor":"#555","labelExpr":"datum.value==0?'0':format(datum.value,'.1f')"}},
        "y":{"field":"dev","type":"quantitative","scale":{"domain":[-10,60],"nice":false},"axis":{"title":["Deviation from Nominal","Insertion Phase (Deg.)"],"values":[-10,0,10,20,30,40,50,60],"gridColor":"#777"}},
        "detail":{"field":"series"}}},
      {"data":{"name":"notes"},"transform":[{"filter":"datum.panel=='pm40'"}],"mark":{"type":"rule","color":"black","strokeWidth":0.7},
       "encoding":{"x":{"field":"freq","type":"quantitative"},"y":{"field":"dev","type":"quantitative"},"x2":{"field":"freq2"},"y2":{"field":"dev2"}}},
      {"data":{"name":"notes"},"transform":[{"filter":"datum.panel=='pm40'"}],"mark":{"type":"text","align":"left","baseline":"middle","dx":2,"fontSize":7,"color":"black"},
       "encoding":{"x":{"field":"freq","type":"quantitative"},"y":{"field":"dev","type":"quantitative"},"text":{"field":"label"}}}
     ]}
   ]}
  ]}
 ]},
 {"width":460,"height":22,"view":{"stroke":null},
  "data":{"values":[
   {"text":"Alpha Industries, Inc.","pos":0.116,"kind":"plain"},
   {"text":"[781] 935-5150","pos":0.259,"kind":"phone"},
   {"text":"• Fax","pos":0.384,"kind":"plain"},
   {"text":"[617] 824-4579","pos":0.433,"kind":"phone"},
   {"text":"• Email","pos":0.558,"kind":"plain"},
   {"text":"sales@alphaind.com • www.alphaind.com","pos":0.609,"kind":"web"},
   {"text":"3","pos":1,"kind":"page"},
   {"text":"Specifications subject to change without notice.  12/00A","pos":0.487,"kind":"note"}
  ]},
  "layer":[
   {"data":{"values":[{}]},"mark":{"type":"rule","color":"black","strokeWidth":1},
    "encoding":{"x":{"datum":0,"type":"quantitative","scale":{"domain":[0.11877,1],"nice":false,"zero":false},"axis":null},"x2":{"datum":1},"y":{"datum":1,"type":"quantitative","scale":{"domain":[0,1],"nice":false},"axis":null}}},
   {"transform":[{"filter":"datum.kind=='plain'"}],"mark":{"type":"text","align":"left","baseline":"middle","fontSize":7.5,"color":"#222"},
    "encoding":{"x":{"field":"pos","type":"quantitative"},"y":{"datum":0.8,"type":"quantitative"},"text":{"field":"text"}}},
   {"transform":[{"filter":"datum.kind=='phone'"}],"mark":{"type":"text","align":"left","baseline":"middle","fontSize":9,"color":"#111"},
    "encoding":{"x":{"field":"pos","type":"quantitative"},"y":{"datum":0.8,"type":"quantitative"},"text":{"field":"text"}}},
   {"transform":[{"filter":"datum.kind=='web'"}],"mark":{"type":"text","align":"left","baseline":"middle","fontSize":7,"fontWeight":"bold","color":"#111"},
    "encoding":{"x":{"field":"pos","type":"quantitative"},"y":{"datum":0.8,"type":"quantitative"},"text":{"field":"text"}}},
   {"transform":[{"filter":"datum.kind=='page'"}],"mark":{"type":"text","align":"right","baseline":"middle","fontSize":10,"fontWeight":"bold","color":"black"},
    "encoding":{"x":{"field":"pos","type":"quantitative"},"y":{"datum":0.8,"type":"quantitative"},"text":{"field":"text"}}},
   {"transform":[{"filter":"datum.kind=='note'"}],"mark":{"type":"text","align":"center","baseline":"middle","fontSize":5.5,"fontStyle":"italic","color":"#333"},
    "encoding":{"x":{"field":"pos","type":"quantitative"},"y":{"datum":0.27,"type":"quantitative"},"text":{"field":"text"}}}
  ]}
],
"spacing":33
}
